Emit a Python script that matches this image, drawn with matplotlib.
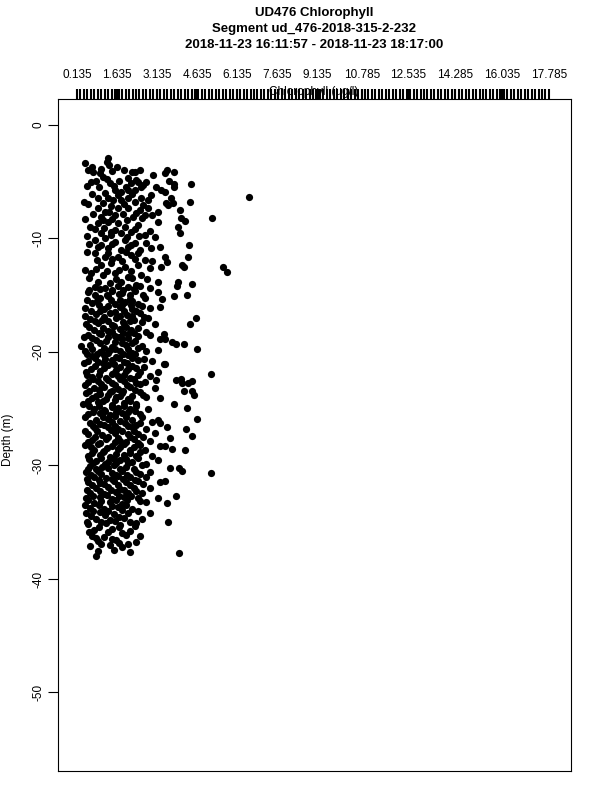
import numpy as np
import matplotlib
matplotlib.use("Agg")
import matplotlib.pyplot as plt

plt.rcParams["font.family"] = ["Liberation Sans", "DejaVu Sans"]

title_lines = ["UD476 Chlorophyll",
               "Segment ud_476-2018-315-2-232",
               "2018-11-23 16:11:57 - 2018-11-23 18:17:00"]
x_label = "Chlorophyll (ug/l)"
y_label = "Depth (m)"

# labelled values on the top axis
x_tick_labels = [0.135, 1.635, 3.135, 4.635, 6.135, 7.635, 9.135,
                 10.785, 12.535, 14.285, 16.035, 17.785]
y_ticks = [0, -10, -20, -30, -40, -50]

# chlorophyll (ug/l) and depth (m) of each sample
chl = [
    0.43, 0.70, 1.26, 1.33, 1.63, 0.99, 1.11, 0.66, 0.73, 2.30, 2.49, 2.98, 3.43,
    2.04, 2.15, 2.42, 2.53, 1.37, 1.56, 1.78, 2.04, 2.30, 3.09, 3.28, 1.29,
    0.40, 0.92, 1.11, 1.29, 1.48, 1.78, 2.04, 2.30, 2.53, 2.79, 3.46,
    0.92, 1.18, 1.67, 2.04, 2.49, 2.79, 3.16, 1.03, 1.56, 2.23, 2.68, 3.16,
    0.62, 0.92, 1.29, 1.67, 1.93, 2.42, 1.03, 1.41, 1.78, 2.15, 2.68, 3.05,
    0.81, 1.18, 1.56, 1.93, 2.30, 0.92, 1.29, 1.78, 2.04, 2.49, 2.90, 3.24,
    0.81, 1.18, 1.67, 2.15, 2.68, 3.43, 1.03, 1.41, 1.93, 2.42, 2.87, 3.28,
    0.66, 1.11, 1.56, 2.04, 2.53, 0.92, 1.37, 1.78, 2.34, 3.16,
    # right side, upper part
    3.49, 3.76, 3.58, 3.76, 3.76, 4.40, 3.43, 3.65, 3.54, 3.73, 4.36, 3.99,
    6.57, 4.02, 4.17, 5.18, 3.91, 3.99, 4.32, 4.29, 3.50, 4.06, 4.14, 5.60,
    5.74, 3.91, 3.87, 4.44,
    # right side, middle part
    3.76, 4.25, 4.59, 4.36, 3.43, 3.69, 3.84, 4.14, 4.62, 3.43, 5.15, 3.84,
    4.02, 4.06, 4.29, 4.44, 4.14, 4.44, 4.51, 3.76, 4.25, 4.62,
    # right side, lower part
    3.50, 4.21, 4.44, 3.61, 3.43, 3.69, 4.17, 3.61, 3.95, 4.06, 5.15, 3.43,
    3.84, 3.50, 3.54, 3.95,
    # dense band, middle
    0.81, 1.18, 1.67, 2.04, 2.49, 2.87,
    0.55, 1.44, 1.82, 2.30, 3.16,
    0.99, 1.29, 2.12, 2.68, 3.31,
    0.70, 1.56, 1.93, 2.42,
    0.43, 1.14, 1.74, 2.19, 2.87, 3.24,
    0.85, 1.37, 2.01, 2.49,
    0.62, 1.07, 1.59, 2.27, 2.79,
    0.47, 0.92, 1.44, 1.89, 2.57, 3.05,
    0.77, 1.29, 1.74, 2.15,
    0.55, 1.03, 1.56, 2.04, 2.42, 2.87, 3.39,
    0.85, 1.22, 1.82, 2.30, 3.24,
    0.28, 0.62, 1.44, 1.97, 2.57,
    0.43, 0.99, 1.37, 1.74, 2.19, 2.72, 3.16,
    0.70, 1.14, 1.59, 2.04,
    0.55, 0.92, 1.44, 1.89, 2.42, 2.94,
    0.81, 1.29, 1.74, 2.19, 2.64, 3.39,
    0.47, 0.99, 1.52, 1.97, 2.49, 3.16,
    0.70, 1.22, 1.67, 2.12, 2.87,
    0.55, 0.92, 1.44, 1.89, 2.34, 2.68, 3.09,
    0.77, 1.14, 1.67, 2.12, 3.05,
    0.47, 0.99, 1.37, 1.82, 2.49,
    0.70, 1.22, 1.59, 2.04, 2.72, 3.24,
    0.36, 0.92, 1.44, 1.89, 2.34,
    0.77, 1.14, 1.67, 2.12, 2.79,
    0.55, 0.99, 1.37, 1.82, 2.49,
    0.85, 1.29, 1.74, 2.19, 3.16,
    # dense band, lower
    0.62, 0.99, 1.44, 1.93, 2.49, 2.94, 3.24,
    0.81, 1.29, 1.67, 2.19, 2.72,
    0.55, 1.07, 1.56, 2.04, 2.42, 3.05,
    0.70, 1.22, 1.74, 2.27, 2.87,
    0.43, 0.92, 1.44, 1.89, 2.49, 3.24,
    0.77, 1.14, 1.67, 2.12, 2.68,
    0.55, 0.99, 1.37, 1.89, 2.34, 2.94,
    0.85, 1.29, 1.74, 2.19, 3.16,
    0.62, 1.07, 1.52, 1.97, 2.57,
    0.47, 0.92, 1.44, 1.82, 2.34, 2.87,
    0.77, 1.22, 1.67, 2.12, 2.72,
    0.55, 0.99, 1.52, 1.97, 2.42, 3.24,
    0.85, 1.29, 1.74, 2.27, 2.87,
    0.62, 1.14, 1.59, 2.04, 2.57,
    0.47, 0.99, 1.44, 1.89, 2.42, 3.16,
    0.77, 1.37, 1.82, 2.72,
    0.62, 1.14, 1.67, 2.19,
    0.47, 0.99, 1.52, 2.04, 2.87,
    0.85, 1.37, 1.89, 2.57,
    0.55, 1.22, 1.74, 2.34,
    0.77, 1.44, 2.12,
    0.70, 1.14, 1.97, 2.49,
    0.92, 1.59, 2.34,
    0.62, 1.37, 1.82,
    0.92, 1.52, 2.12,
    0.85,
]
depth = [
    -3.35, -3.70, -3.26, -3.52, -3.70, -4.23, -4.58, -5.02, -4.14, -4.14, -3.96, -4.41, -4.23,
    -4.67, -5.11, -5.02, -5.46, -5.11, -5.73, -5.90, -5.73, -5.73, -5.46, -5.73, -2.91,
    -6.78, -6.43, -6.87, -6.43, -6.61, -6.61, -6.43, -6.78, -6.43, -6.61, -6.87,
    -7.31, -7.67, -7.31, -7.31, -7.49, -7.31, -7.67, -8.11, -7.93, -8.11, -7.93, -8.55,
    -8.99, -8.63, -8.55, -8.63, -8.99, -8.81, -9.52, -9.43, -9.52, -9.43, -9.69, -9.87,
    -10.13, -9.96, -10.31, -10.13, -10.40, -10.75, -10.84, -11.01, -10.75, -11.01, -10.84, -10.75,
    -11.28, -11.63, -11.63, -11.45, -11.89, -11.63, -12.33, -12.16, -12.51, -12.33, -12.60, -12.51,
    -13.04, -13.22, -13.04, -13.39, -13.22, -13.83, -13.92, -13.83, -14.10, -13.83,
    # right side, upper part
    -3.96, -4.14, -4.93, -5.20, -5.46, -5.20, -5.90, -6.43, -7.05, -6.87, -6.78, -7.49,
    -6.34, -8.19, -8.46, -8.19, -8.99, -9.52, -10.57, -11.63, -12.07, -12.33, -12.51, -12.51,
    -12.95, -13.83, -14.19, -14.01,
    # right side, middle part
    -15.07, -14.98, -17.00, -17.53, -18.85, -19.12, -19.30, -19.30, -19.74, -21.06, -21.94, -22.47,
    -22.38, -22.73, -22.73, -22.56, -23.44, -23.44, -23.79, -24.58, -24.93, -25.90,
    # right side, lower part
    -26.61, -26.78, -27.40, -27.58, -28.28, -28.55, -28.63, -30.22, -30.22, -30.48, -30.66, -31.37,
    -32.69, -33.30, -34.98, -37.71,
    # dense band, middle
    -14.27, -14.40, -14.15, -14.30, -14.20, -14.35,
    -14.71, -14.60, -14.80, -14.65, -14.75,
    -15.24, -15.10, -15.30, -15.20, -15.35,
    -15.68, -15.80, -15.60, -15.75,
    -16.12, -16.25, -16.05, -16.20, -16.10, -16.00,
    -16.65, -16.55, -16.75, -16.60,
    -17.09, -17.20, -17.00, -17.15, -17.05,
    -17.53, -17.45, -17.60, -17.50, -17.40, -17.55,
    -18.06, -18.15, -18.00, -18.10,
    -18.50, -18.40, -18.60, -18.45, -18.55, -18.50, -18.40,
    -18.94, -19.05, -18.85, -19.00, -18.90,
    -19.47, -19.35, -19.55, -19.40, -19.50,
    -19.91, -20.00, -19.85, -19.95, -20.05, -19.90, -19.80,
    -20.35, -20.25, -20.45, -20.30,
    -20.79, -20.90, -20.70, -20.85, -20.75, -20.80,
    -21.23, -21.15, -21.30, -21.20, -21.35, -21.10,
    -21.76, -21.65, -21.85, -21.70, -21.80, -21.75,
    -22.20, -22.30, -22.10, -22.25, -22.15,
    -22.64, -22.55, -22.75, -22.60, -22.70, -22.65, -22.50,
    -23.17, -23.05, -23.25, -23.10, -23.20,
    -23.61, -23.70, -23.55, -23.65, -23.50,
    -24.05, -24.15, -23.95, -24.10, -24.00, -24.05,
    -24.58, -24.45, -24.65, -24.50, -24.60,
    -25.02, -25.10, -24.95, -25.05, -25.00,
    -25.46, -25.35, -25.55, -25.40, -25.50,
    -25.99, -25.90, -26.05, -25.95, -26.00,
    # dense band, lower
    -26.26, -26.35, -26.20, -26.30, -26.25, -26.15, -26.30,
    -26.70, -26.60, -26.80, -26.65, -26.75,
    -27.22, -27.30, -27.15, -27.25, -27.20, -27.10,
    -27.75, -27.65, -27.85, -27.70, -27.80,
    -28.19, -28.10, -28.25, -28.15, -28.20, -28.30,
    -28.63, -28.70, -28.55, -28.65, -28.60,
    -29.16, -29.05, -29.25, -29.10, -29.20, -29.15,
    -29.60, -29.70, -29.50, -29.65, -29.55,
    -30.04, -30.15, -29.95, -30.10, -30.00,
    -30.57, -30.45, -30.65, -30.50, -30.60, -30.55,
    -31.01, -31.10, -30.95, -31.05, -31.00,
    -31.45, -31.55, -31.35, -31.50, -31.40, -31.45,
    -31.98, -31.90, -32.05, -31.95, -32.00,
    -32.42, -32.50, -32.35, -32.45, -32.40,
    -32.86, -32.75, -32.95, -32.80, -32.90, -32.85,
    -33.30, -33.20, -33.40, -33.25,
    -33.74, -33.85, -33.65, -33.80,
    -34.19, -34.10, -34.25, -34.15, -34.20,
    -34.71, -34.80, -34.65, -34.75,
    -35.15, -35.05, -35.25, -35.10,
    -35.68, -35.60, -35.75,
    -36.21, -36.30, -36.15, -36.25,
    -36.65, -36.55, -36.70,
    -37.09, -37.00, -37.15,
    -37.53, -37.45, -37.60,
    -37.97,
]

# extra samples filling the crowded band between the rows above
chl_band = [
    0.55, 1.05, 1.45, 1.90, 2.20,
    0.85, 1.25, 1.70, 2.35, 2.70,
    0.50, 0.95, 1.50, 1.95, 2.60,
    0.70, 1.20, 1.65, 2.20, 2.90,
    0.55, 1.40, 1.90, 2.60,
    0.75, 1.35, 1.85, 2.35, 2.95,
    0.45, 1.10, 1.45, 2.00, 2.55,
    0.80, 1.15, 1.55, 2.30, 2.85,
    0.50, 1.40, 2.00, 2.45,
    0.60, 1.05, 1.45, 2.15, 2.70,
    0.50, 1.30, 1.95, 2.40,
    0.90, 1.45, 1.80, 2.30, 2.95,
    0.45, 0.85, 1.25, 1.70, 2.15,
    0.60, 1.60, 2.20, 2.75,
    0.60, 1.00, 1.45, 1.85, 2.25,
    0.80, 1.25, 1.70, 2.10, 2.60,
    0.50, 0.90, 1.40, 1.75, 2.20,
    0.95, 1.30, 1.80, 2.15, 2.55,
    0.65, 1.00, 1.55, 1.90, 2.35,
    0.45, 1.15, 1.75, 2.20, 2.65,
    0.80, 1.30, 1.85, 2.10,
    0.60, 1.10, 1.50, 1.95, 2.40,
    0.95, 1.45, 1.85, 2.25, 2.70,
    0.40, 0.70, 1.30, 1.70, 2.05,
    1.00, 1.55, 1.80, 2.20,
    0.70, 1.15, 1.55, 2.05, 2.40,
    0.50, 0.90, 1.30, 1.85, 2.30,
    0.80, 1.20, 1.70, 2.20, 2.65,
    0.40, 1.10, 1.50, 2.00,
    0.65, 1.15, 1.60, 2.05, 2.35,
    0.50, 0.95, 1.45, 1.90, 2.40,
    0.75, 1.30, 1.75, 2.25,
    0.45, 1.05, 1.55, 2.00, 2.50,
    0.60, 0.95, 1.45, 1.85, 2.30,
    0.85, 1.30, 1.75, 2.20, 2.60,
    0.55, 1.10, 1.55, 2.10,
    0.60, 0.95, 1.45, 1.90, 2.35,
    0.75, 1.20, 1.60, 2.05, 2.30,
    0.45, 1.10, 1.55, 1.95, 2.55,
    0.75, 1.15, 1.55, 2.05, 2.35,
    0.45, 0.90, 1.40, 1.80, 2.25,
    0.80, 1.30, 1.65, 2.10, 2.60,
    0.55, 1.00, 1.55, 1.95, 2.40,
    0.65, 1.25, 1.75, 2.25,
    0.70, 1.10, 1.60, 2.10, 2.50,
    0.60, 1.05, 1.50, 1.95, 2.40,
    0.75, 1.20, 1.60, 2.05, 2.70,
    0.55, 0.85, 1.30, 1.75, 2.25,
    0.65, 1.05, 1.60, 2.00, 2.50,
    0.50, 0.95, 1.45, 1.85, 2.30,
    0.70, 1.15, 1.65, 2.10, 2.60,
    0.50, 1.00, 1.40, 1.90, 2.35,
    0.75, 1.25, 1.70, 2.15,
    0.55, 1.05, 1.60, 2.00, 2.50,
    0.45, 0.95, 1.45, 1.95,
    0.75, 1.30, 1.80, 2.40,
    0.65, 1.20, 1.70,
    0.50, 1.05, 1.55, 2.10,
    0.95, 1.70, 2.30,
    0.60, 1.30, 1.80,
    0.85, 1.45,
    1.05, 1.70, 2.05,
]
depth_band = [
    -4.00, -3.90, -4.05, -3.95, -4.10,
    -4.90, -4.80, -4.95, -4.85, -5.00,
    -5.40, -5.50, -5.35, -5.45, -5.30,
    -6.10, -6.00, -6.15, -6.05, -6.20,
    -7.00, -7.10, -6.95, -7.05,
    -7.80, -7.70, -7.85, -7.75, -7.90,
    -8.30, -8.40, -8.25, -8.35, -8.20,
    -9.20, -9.10, -9.25, -9.15, -9.30,
    -9.80, -9.70, -9.85, -9.75,
    -10.50, -10.60, -10.45, -10.55, -10.40,
    -11.20, -11.30, -11.15, -11.25,
    -11.90, -11.80, -11.95, -11.85, -12.00,
    -12.80, -12.70, -12.85, -12.75, -12.90,
    -13.50, -13.60, -13.45, -13.55,
    -14.50, -14.45, -14.55, -14.50, -14.45,
    -14.95, -15.00, -14.90, -14.95, -15.00,
    -15.45, -15.50, -15.40, -15.45, -15.50,
    -15.90, -15.95, -15.85, -15.90, -15.95,
    -16.40, -16.35, -16.45, -16.40, -16.35,
    -16.85, -16.90, -16.80, -16.85, -16.90,
    -17.30, -17.25, -17.35, -17.30,
    -17.80, -17.85, -17.75, -17.80, -17.85,
    -18.30, -18.25, -18.35, -18.30, -18.25,
    -18.70, -18.75, -18.65, -18.70, -18.75,
    -19.20, -19.15, -19.25, -19.20,
    -19.70, -19.65, -19.75, -19.70, -19.65,
    -20.15, -20.20, -20.10, -20.15, -20.20,
    -20.55, -20.60, -20.50, -20.55, -20.60,
    -21.00, -20.95, -21.05, -21.00,
    -21.50, -21.45, -21.55, -21.50, -21.45,
    -22.00, -22.05, -21.95, -22.00, -22.05,
    -22.40, -22.45, -22.35, -22.40,
    -22.90, -22.85, -22.95, -22.90, -22.85,
    -23.40, -23.35, -23.45, -23.40, -23.35,
    -23.85, -23.80, -23.90, -23.85, -23.80,
    -24.30, -24.35, -24.25, -24.30,
    -24.80, -24.75, -24.85, -24.80, -24.75,
    -25.25, -25.20, -25.30, -25.25, -25.20,
    -25.70, -25.75, -25.65, -25.70, -25.75,
    -26.50, -26.45, -26.55, -26.50, -26.45,
    -26.95, -27.00, -26.90, -26.95, -27.00,
    -27.50, -27.45, -27.55, -27.50, -27.45,
    -27.95, -28.00, -27.90, -27.95, -28.00,
    -28.40, -28.45, -28.35, -28.40,
    -28.90, -28.85, -28.95, -28.90, -28.85,
    -29.40, -29.35, -29.45, -29.40, -29.35,
    -29.80, -29.85, -29.75, -29.80, -29.85,
    -30.30, -30.35, -30.25, -30.30, -30.35,
    -30.80, -30.75, -30.85, -30.80, -30.75,
    -31.20, -31.25, -31.15, -31.20, -31.25,
    -31.70, -31.65, -31.75, -31.70, -31.65,
    -32.20, -32.25, -32.15, -32.20, -32.25,
    -32.65, -32.60, -32.70, -32.65,
    -33.05, -33.10, -33.00, -33.05, -33.10,
    -33.50, -33.45, -33.55, -33.50,
    -34.00, -34.05, -33.95, -34.00,
    -34.45, -34.40, -34.50,
    -34.95, -35.00, -34.90, -34.95,
    -35.40, -35.45, -35.35,
    -35.90, -35.85, -35.95,
    -36.40, -36.45,
    -36.90, -36.85, -36.95,
]

fig = plt.figure(figsize=(6, 8), dpi=100)
ax = fig.add_axes([58 / 600, 29 / 800, 513 / 600, 672 / 800])

ax.plot(chl + chl_band, depth + depth_band, "o", color="black",
        markersize=5.2, markeredgewidth=0)

ax.set_xlim(-0.576, 18.61)
ax.set_ylim(-56.92, 2.29)

# top axis: dense ticks, few labels
ax.xaxis.tick_top()
ax.set_xticks(x_tick_labels)
ax.set_xticklabels([f"{v:.3f}" for v in x_tick_labels])
ax.set_xticks(np.linspace(x_tick_labels[0], x_tick_labels[-1], 137), minor=True)
ax.tick_params(axis="x", which="both", direction="out", length=7, width=1.5,
               labelsize=8.5, pad=6)
ax.tick_params(axis="y", direction="out", length=7, width=0.8, labelsize=8.5,
               labelrotation=90, pad=3)
ax.set_yticks(y_ticks)
ax.set_yticklabels([str(v) for v in y_ticks], va="center")

for s in ax.spines.values():
    s.set_linewidth(0.8)

fig.text(314 / 600, 1 - 92 / 800, x_label, ha="center", va="center", fontsize=8.5)
fig.text(8 / 600, 1 - 440 / 800, y_label, ha="center", va="center",
         rotation=90, fontsize=8.5)
for i, line in enumerate(title_lines):
    fig.text(314 / 600, 1 - (13 + 16 * i) / 800, line, ha="center", va="center",
             fontsize=9.5, fontweight="bold")

fig.savefig("out.png", dpi=100)
